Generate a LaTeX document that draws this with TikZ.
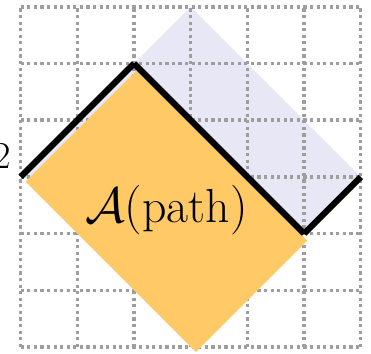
\documentclass[tikz,border=0pt]{standalone}
\usepackage{amsmath}
\definecolor{regionfill}{RGB}{231,231,245}
\definecolor{areafill}{RGB}{255,202,102}
\begin{document}
\begin{tikzpicture}[
    gridline/.style={black!38, line width=1.7pt, dash pattern=on 1.6pt off 1.7pt},
    region/.style={fill=regionfill},
    area/.style={fill=areafill},
    pathline/.style={black, line width=3.1pt},
    arealabel/.style={font=\fontsize{24}{29}\selectfont},
    sidelabel/.style={font=\fontsize{19}{23}\selectfont, anchor=east, inner sep=0pt}
  ]
  \useasboundingbox (-0.365,-0.12) rectangle (6.18,6.12);

  % Path points
  \coordinate (p0) at (0,3);
  \coordinate (p1) at (2,5);
  \coordinate (p2) at (5,2);
  \coordinate (p3) at (6,3);
  \coordinate (q1) at (3,6);

  % Region above the path
  \fill[region] (p0) -- (p1) -- (q1) -- (p3) -- (p2) -- cycle;

  % Grid
  \draw[gridline] (0,0) grid (6,6);

  % Area rectangle
  \coordinate (a0) at (0.085,2.915);
  \coordinate (a1) at (2.05,4.88);
  \coordinate (a2) at (5.055,1.875);
  \coordinate (a3) at (3.09,-0.09);
  \fill[area] (a0) -- (a1) -- (a2) -- (a3) -- cycle;

  % The path
  \draw[pathline] (p0) -- (p1);
  \draw[pathline] (p1) -- (p2);
  \draw[pathline] (p2) -- (p3);

  \node[arealabel] (alabel) at (2.57,2.41) {$\mathcal{A}(\text{path})$};
  \node[sidelabel] (side) at (-0.17,3.36) {2};
\end{tikzpicture}
\end{document}
